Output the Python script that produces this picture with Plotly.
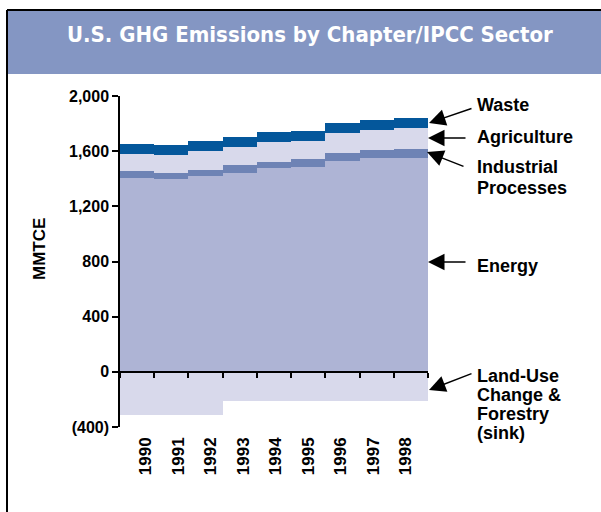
import plotly.graph_objects as go

years = [1990, 1991, 1992, 1993, 1994, 1995, 1996, 1997, 1998]
energy = [1408, 1399, 1420, 1444, 1480, 1488, 1531, 1553, 1553]
industrial = [49, 43, 44, 56, 42, 55, 56, 56, 63]
agriculture = [123, 130, 137, 130, 145, 131, 145, 145, 152]
waste = [72, 73, 73, 73, 72, 72, 72, 72, 73]
land_use = [-312, -312, -312, -208, -208, -208, -208, -208, -208]

y_tickvals = [-400, 0, 400, 800, 1200, 1600, 2000]
y_ticktext = ["(400)", "0", "400", "800", "1,200", "1,600", "2,000"]

W, H = 601, 512
L, R, T, B = 120, 428, 96, 427

def xp(px):
    return (px - L) / (R - L)

def yp(py):
    return (B - py) / (B - T)

FONT = "Liberation Sans, Arial, sans-serif"

fig = go.Figure()
series = [
    ("Energy", energy, "#AEB4D5"),
    ("Industrial Processes", industrial, "#6E83B5"),
    ("Agriculture", agriculture, "#D8D9EB"),
    ("Waste", waste, "#04579B"),
    ("Land-Use Change & Forestry", land_use, "#D8D9EB"),
]
for name, vals, col in series:
    fig.add_trace(go.Bar(x=years, y=vals, name=name, width=1,
                         marker=dict(color=col, line=dict(width=0)),
                         showlegend=False))

# invisible trace for label axis
fig.add_trace(go.Scatter(x=years, y=[None]*len(years), xaxis="x2",
                         showlegend=False, hoverinfo="skip"))

fig.update_layout(
    width=W, height=H,
    margin=dict(l=L, r=W - R, t=T, b=H - B, pad=0),
    paper_bgcolor="white", plot_bgcolor="white",
    barmode="relative", bargap=0,
    font=dict(family=FONT, color="black"),
    xaxis=dict(range=[1989.5, 1998.5], tickvals=[y + 0.5 for y in [1989] + years],
               showticklabels=False, ticks="outside", ticklen=5, tickwidth=1.5,
               tickcolor="black", showline=True, linecolor="black", linewidth=1.5,
               showgrid=False, zeroline=False, anchor="free", position=400 / 2400),
    xaxis2=dict(overlaying="x", range=[1989.209, 1998.686], tickvals=years,
                ticktext=[str(y) for y in years], tickangle=-90, ticks="",
                ticklabelstandoff=6,
                showline=False, showgrid=False, zeroline=False, anchor="y",
                side="bottom", tickfont=dict(size=17, weight="bold", family=FONT)),
    yaxis=dict(range=[-400, 2000], tickvals=y_tickvals, ticktext=y_ticktext,
               ticks="outside", ticklen=6, tickwidth=1.5, tickcolor="black",
               showline=True, linecolor="black", linewidth=1.5, showgrid=False,
               zeroline=False, tickfont=dict(size=16, weight="bold", family=FONT)),
)

shapes = [
    dict(type="rect", xref="paper", yref="paper", x0=xp(7), x1=xp(601), y0=yp(74), y1=yp(10),
         fillcolor="#8496C3", line=dict(width=0), layer="below"),
    dict(type="line", xref="paper", yref="paper", x0=xp(7), x1=xp(601), y0=yp(10), y1=yp(10),
         line=dict(color="black", width=2)),
    dict(type="line", xref="paper", yref="paper", x0=xp(7), x1=xp(7), y0=yp(10), y1=yp(512),
         line=dict(color="black", width=2)),
]
fig.update_layout(shapes=shapes)

ann = [dict(text="<b>U.S. GHG Emissions by Chapter/IPCC Sector</b>", xref="paper", yref="paper",
            x=xp(310), y=yp(34), xanchor="center", yanchor="middle", showarrow=False,
            font=dict(family="DejaVu Sans Condensed", size=22, color="white")),
       dict(text="MMTCE", xref="paper", yref="paper", x=xp(39), y=yp(249),
            xanchor="center", yanchor="middle", textangle=-90, showarrow=False,
            font=dict(size=17, weight="bold", family=FONT))]

labels = [
    ("Waste", 105),
    ("Agriculture", 137),
    ("Industrial", 167),
    ("Processes", 188),
    ("Energy", 266),
    ("Land-Use", 376),
    ("Change &", 395),
    ("Forestry", 414),
    ("(sink)", 433),
]
for txt, cy in labels:
    ann.append(dict(text=txt, xref="paper", yref="paper", x=xp(475), y=yp(cy),
                    xanchor="left", yanchor="middle", align="left", showarrow=False,
                    font=dict(size=18, weight="bold", family=FONT)))

arrows = [
    ((429, 123), (473, 108)),
    ((428, 138), (467, 138)),
    ((427, 152), (465, 167)),
    ((428, 262), (467, 262)),
    ((429, 390), (473, 373)),
]
for (tx, ty), (sx, sy) in arrows:
    ann.append(dict(text="", xref="paper", yref="paper", x=xp(tx), y=yp(ty),
                    ax=sx - tx, ay=sy - ty, axref="pixel", ayref="pixel",
                    showarrow=True, arrowhead=2, arrowsize=2.2, arrowwidth=1.5,
                    arrowcolor="black", standoff=0))
fig.update_layout(annotations=ann)

fig.write_html("out.html", config={"displayModeBar": False},
               post_script="document.body.style.margin='0';document.body.style.overflow='hidden';")
